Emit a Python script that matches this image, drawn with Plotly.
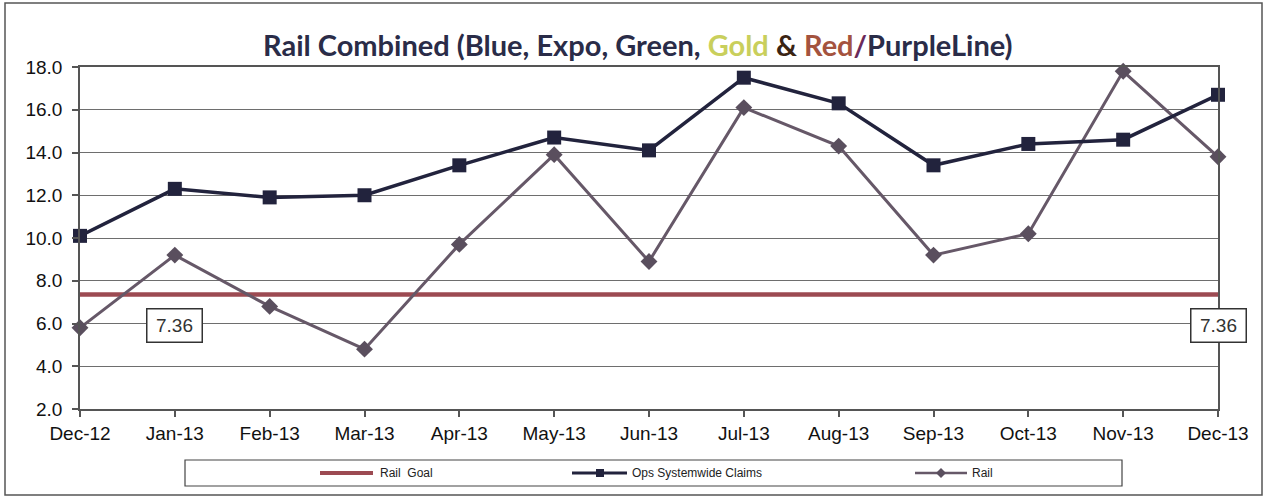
import plotly.graph_objects as go

# Monthly claim rates, Dec-12 .. Dec-13
months = ["Dec-12", "Jan-13", "Feb-13", "Mar-13", "Apr-13", "May-13", "Jun-13",
          "Jul-13", "Aug-13", "Sep-13", "Oct-13", "Nov-13", "Dec-13"]
ops_claims = [10.1, 12.3, 11.9, 12.0, 13.4, 14.7, 14.1, 17.5, 16.3, 13.4, 14.4, 14.6, 16.7]
rail = [5.8, 9.2, 6.8, 4.8, 9.7, 13.9, 8.9, 16.1, 14.3, 9.2, 10.2, 17.8, 13.8]
rail_goal = 7.36
y_ticks = [2.0, 4.0, 6.0, 8.0, 10.0, 12.0, 14.0, 16.0, 18.0]

GOAL_C = "#9c4a52"
OPS_C = "#22233d"
RAIL_C = "#665868"
RAIL_M = "#5a4f5e"
TICK_FONT = dict(family="Liberation Sans, Arial, sans-serif", size=19, color="#111111")

# plot-area geometry in pixels (used to place paper-referenced decorations)
W, H = 1265, 497
L, R, T, B = 80, 1218, 67, 409


def px(x):
    return (x - L) / (R - L)


def py(y):
    return (B - y) / (B - T)


fig = go.Figure()

fig.add_trace(go.Scatter(
    x=months, y=[rail_goal] * len(months), mode="lines", name="Rail Goal",
    line=dict(color=GOAL_C, width=4.5), showlegend=False))

fig.add_trace(go.Scatter(
    x=months, y=rail, mode="lines+markers", name="Rail",
    line=dict(color=RAIL_C, width=3), cliponaxis=False,
    marker=dict(symbol="diamond", size=13, color=RAIL_M), showlegend=False))

fig.add_trace(go.Scatter(
    x=months, y=ops_claims, mode="lines+markers", name="Ops Systemwide Claims",
    line=dict(color=OPS_C, width=3.5), cliponaxis=False,
    marker=dict(symbol="square", size=14, color=OPS_C), showlegend=False))

# goal value labels at the second and last month
annotations = []
for xi in (months[1], months[-1]):
    annotations.append(dict(
        x=xi, y=rail_goal, xref="x", yref="y", text="7.36", showarrow=False,
        yshift=-31, font=dict(family="Liberation Sans, Arial, sans-serif", size=19, color="#333333"),
        bgcolor="white", bordercolor="#333333", borderwidth=1.5, borderpad=2,
        width=50, height=28))

# title with coloured line names
title = ("<b>Rail Combined (Blue, Expo, Green, "
         "<span style='color:#c9cf5c'>Gold</span> "
         "<span style='color:#3a2414'>&amp;</span> "
         "<span style='color:#a4533e'>Red</span>"
         "<span style='color:#6a2a5a'>/</span>PurpleLine)</b>")
annotations.append(dict(
    x=px(638), y=py(45), xref="paper", yref="paper", text=title, showarrow=False,
    xanchor="center", yanchor="middle",
    font=dict(family="Lato, 'Open Sans', sans-serif", size=29, color="#2a2c48")))

# legend entries
leg_y = py(473)
leg_font = dict(family="Liberation Sans Narrow, Arial Narrow, Liberation Sans, sans-serif",
                size=12, color="#222222")
for tx, label in ((378, "Rail  Goal"), (630, "Ops Systemwide Claims"), (970, "Rail")):
    annotations.append(dict(x=px(tx), y=leg_y, xref="paper", yref="paper", text=label,
                            showarrow=False, xanchor="left", yanchor="middle", font=leg_font))

shapes = [
    # outer frame
    dict(type="rect", xref="paper", yref="paper", x0=px(5), x1=px(1262), y0=py(495), y1=py(3),
         line=dict(color="#555555", width=1.5), layer="below"),
    # legend frame
    dict(type="rect", xref="paper", yref="paper", x0=px(185), x1=px(1122), y0=py(486), y1=py(460),
         line=dict(color="#444444", width=1.2)),
    # legend samples
    dict(type="line", xref="paper", yref="paper", x0=px(320), x1=px(373), y0=leg_y, y1=leg_y,
         line=dict(color=GOAL_C, width=4)),
    dict(type="line", xref="paper", yref="paper", x0=px(572), x1=px(627), y0=leg_y, y1=leg_y,
         line=dict(color=OPS_C, width=3)),
    dict(type="rect", xref="paper", yref="paper", x0=px(596), x1=px(604), y0=py(477), y1=py(469),
         fillcolor=OPS_C, line=dict(width=0)),
    dict(type="line", xref="paper", yref="paper", x0=px(915), x1=px(967), y0=leg_y, y1=leg_y,
         line=dict(color=RAIL_C, width=2.5)),
    dict(type="path", xref="paper", yref="paper",
         path=f"M {px(941)},{py(468)} L {px(946)},{leg_y} L {px(941)},{py(478)} L {px(936)},{leg_y} Z",
         fillcolor=RAIL_M, line=dict(width=0)),
]

fig.update_layout(
    width=W, height=H,
    margin=dict(l=L, r=W - R, t=T, b=H - B),
    paper_bgcolor="white", plot_bgcolor="white",
    annotations=annotations, shapes=shapes,
    xaxis=dict(
        type="category", range=[0, len(months) - 1], tickfont=TICK_FONT,
        showgrid=False, showline=True, linecolor="#555555", linewidth=1.5, mirror=True,
        ticks="outside", ticklen=6, tickcolor="#555555", tickwidth=1.5, zeroline=False),
    yaxis=dict(
        range=[2, 18], tickvals=y_ticks, ticktext=[f"{v:.1f}" for v in y_ticks],
        tickfont=TICK_FONT, showgrid=True, gridcolor="#6e6e6e", gridwidth=1.3,
        showline=True, linecolor="#555555", linewidth=1.5, mirror=True,
        ticks="outside", ticklen=6, tickcolor="#555555", tickwidth=1.5,
        ticklabelstandoff=6, zeroline=False),
)

fig.write_html("out.html")
